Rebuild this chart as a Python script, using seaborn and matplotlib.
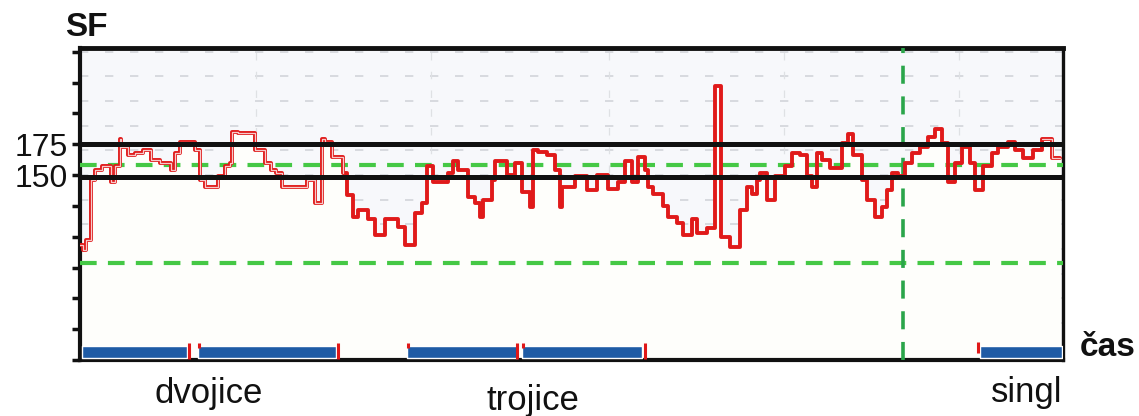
import numpy as np
import pandas as pd
import matplotlib
matplotlib.use("Agg")
import matplotlib.pyplot as plt
import seaborn as sns

# heart rate trace: cas = time (screen units), sf = beats per minute
cas = [0, 3, 6, 11, 15, 22, 31, 35, 40, 41, 48, 55, 63, 71, 80, 91, 95, 100, 115, 120,
       125, 138, 145, 150, 152, 158, 175, 185, 191, 196, 202, 227, 235, 242, 245, 252, 263, 267, 273, 278,
       288, 295, 305, 318, 325, 335, 342, 347, 353, 368, 373, 378, 388, 395, 400, 403, 412, 415, 427, 435,
       442, 450, 453, 458, 467, 475, 480, 482, 495, 507, 517, 528, 538, 545, 552, 558, 565, 568, 573, 583,
       588, 597, 603, 612, 617, 627, 635, 641, 650, 660, 667, 672, 677, 680, 687, 695, 705, 712, 720, 727,
       732, 737, 742, 750, 762, 768, 773, 782, 787, 795, 802, 807, 812, 818, 825, 832, 840, 848, 855, 862,
       868, 875, 882, 890, 895, 903, 912, 918, 928, 935, 943, 953, 962, 972, 980]
sf = [93, 89, 97, 146, 154, 157, 144, 157, 179, 173, 166, 168, 170, 162, 160, 154, 168, 177, 170, 146,
      140, 149, 157, 160, 185, 184, 170, 160, 154, 152, 140, 146, 127, 179, 177, 165, 152, 134, 116, 122,
      114, 101, 114, 108, 93, 119, 127, 157, 144, 152, 161, 154, 132, 127, 116, 130, 146, 161, 150, 160,
      136, 124, 170, 169, 166, 154, 124, 140, 149, 138, 150, 139, 144, 161, 144, 165, 154, 140, 135, 125,
      116, 111, 101, 114, 103, 107, 222, 100, 92, 122, 140, 135, 146, 152, 130, 149, 157, 168, 166, 149,
      140, 168, 162, 156, 176, 183, 166, 146, 130, 116, 124, 138, 152, 149, 160, 168, 173, 181, 187, 176,
      144, 160, 173, 160, 138, 157, 168, 173, 177, 170, 164, 170, 179, 164, 164]

# limits drawn on the chart (hand drawn, the lower one sits a bit under 150)
limit_lines = [175, 148]
green_limits = [158, 79]
green_time = 823

# activity blocks at the bottom (start, length)
blocks = [(2, 105), (118, 138), (327, 110), (442, 120), (900, 82)]
block_marks = [(109, 1, 14), (119, 10, 14), (258, 1, 14), (328, 10, 14),
               (437, 1, 14), (443, 10, 14), (565, 1, 14), (898, 6, 15)]

yticks = list(range(0, 251, 25))
ylabels = ["175" if v == 175 else "150" if v == 150 else "" for v in yticks]

sns.set_style("white")
plt.rcParams['font.family'] = ['Liberation Sans', 'DejaVu Sans']

W, H = 1139, 416
fig = plt.figure(figsize=(W / 100, H / 100), dpi=100)
ax = fig.add_axes([80 / W, 1 - 360 / H, (1063 - 80) / W, (360 - 48) / H])
ax.set_facecolor('#f7f8fb')

df = pd.DataFrame({'cas': cas, 'sf': sf})

# faint background grid
for y in range(10, 251, 20):
    ax.axhline(y, color='#d2d5da', lw=1.2, ls=(0, (5, 10)), zorder=0.5)
for x in [176, 351, 529, 704, 879]:
    ax.axvline(x, color='#dfe1e4', lw=0.9, ls=(0, (6, 9)), zorder=0.5)

# area under the curve hides the grid
ax.fill_between(df['cas'], df['sf'], 0, step='post', color='#fefefb', zorder=1)

for g in green_limits:
    ax.axhline(g, color='#45c845', lw=3, ls=(0, (4, 2.7)), zorder=3)
ax.axvline(green_time, color='#2aa54a', lw=2.6, ls=(0, (5, 3.5)), zorder=3)

sns.lineplot(data=df, x='cas', y='sf', drawstyle='steps-post', estimator=None,
             color='#e01a1a', lw=2.8, ax=ax, zorder=5)
# hollow look of the trace at the start and the end
for lo, hi in [(0, 265), (960, 990)]:
    part = df[(df['cas'] >= lo) & (df['cas'] <= hi)]
    ax.step(part['cas'], part['sf'], where='post', color='#f7caca', lw=0.9, zorder=5.5)

for y in limit_lines:
    ax.axhline(y, color='#111111', lw=3.6, zorder=6)

ax.broken_barh(blocks, (1.5, 9.5), facecolors='#1f5ba5', zorder=4)
for t, b0, b1 in block_marks:
    ax.vlines(t, b0, b1, color='#e01818', lw=2.2, zorder=4.5)

ax.set_xlim(0, 983)
ax.set_ylim(0, 253)
ax.set_xticks([])
ax.set_yticks(yticks)
ax.set_yticklabels(ylabels)
ax.tick_params(axis='y', direction='out', length=6, width=2.5, pad=3,
               labelsize=23, colors='#111111', left=True)
ax.set_xlabel('')
ax.set_ylabel('')
for s in ax.spines.values():
    s.set_visible(True)
    s.set_color('#111111')
    s.set_linewidth(3)
ax.spines['top'].set_linewidth(3.5)
ax.spines['right'].set_linewidth(2.4)

fig.text(65 / W, 1 - 27 / H, 'SF', fontsize=24, fontweight='bold', ha='left', va='center', color='#111111')
fig.text(1080 / W, 1 - 356 / H, 'čas', fontsize=24, fontweight='bold', ha='left', va='baseline', color='#111111')
fig.text(209 / W, 1 - 403 / H, 'dvojice', fontsize=25, ha='center', va='baseline', color='#111111')
fig.text(533 / W, 1 - 410 / H, 'trojice', fontsize=25, ha='center', va='baseline', color='#111111')
fig.text(1027 / W, 1 - 402 / H, 'singl', fontsize=25, ha='center', va='baseline', color='#111111')

fig.savefig('out.png', dpi=100, facecolor='white')
